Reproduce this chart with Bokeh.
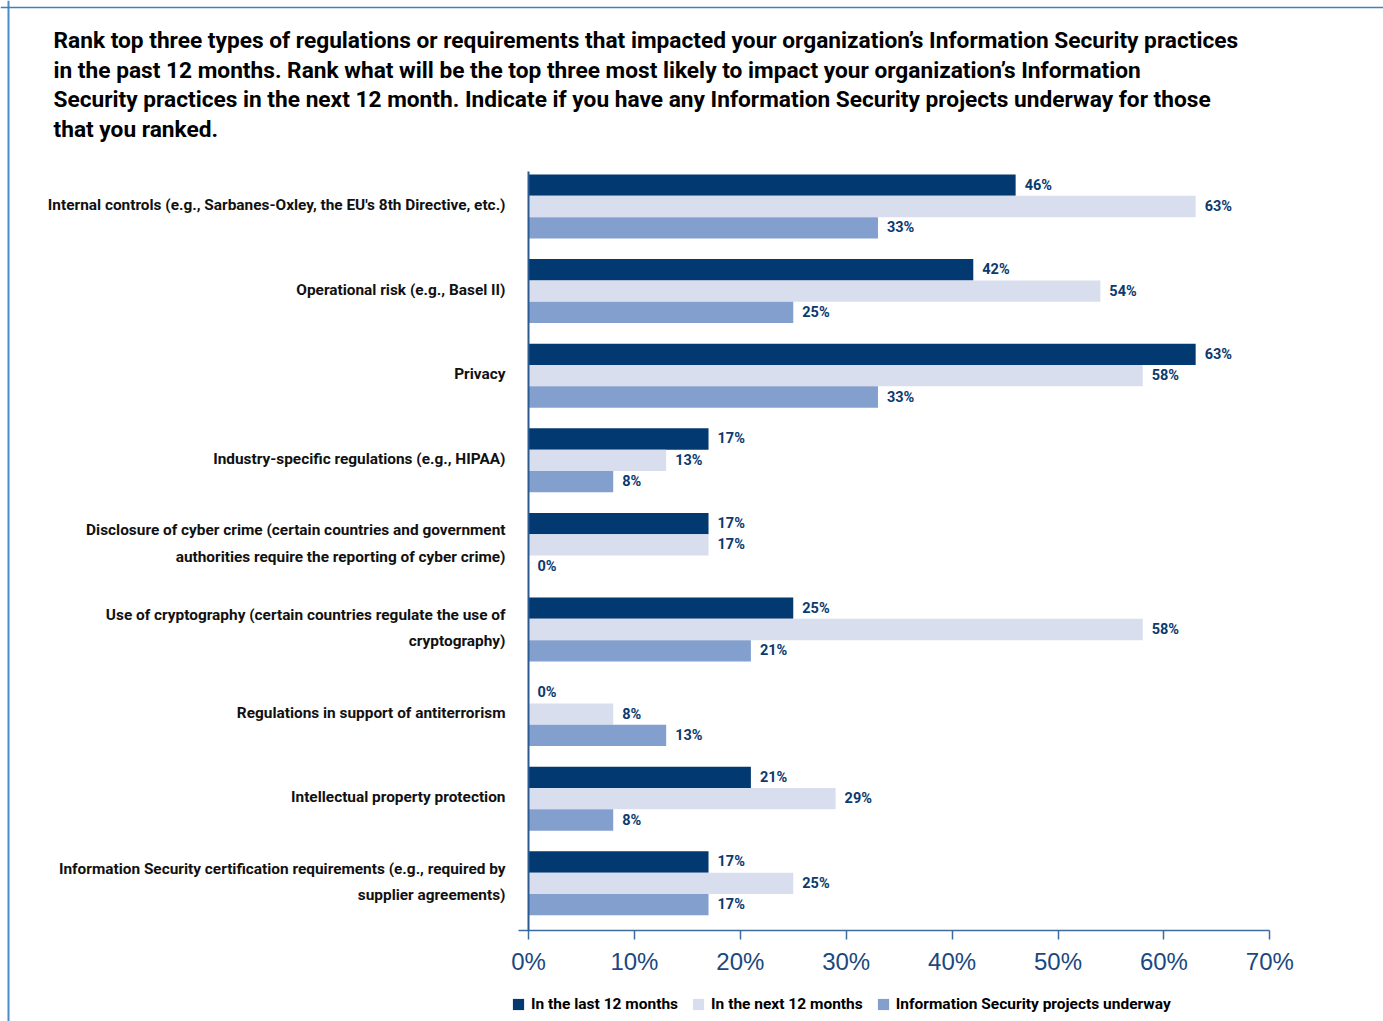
from bokeh.plotting import figure
from bokeh.models import (Range1d, LinearAxis, FixedTicker, PrintfTickFormatter, Label,
                          Legend, LegendItem, Span, ColumnDataSource)
from bokeh.core.properties import value
from bokeh.embed import file_html
from bokeh.resources import INLINE

title_text = ("Rank top three types of regulations or requirements that impacted your organization\u2019s Information Security practices\n"
              "in the past 12 months. Rank what will be the top three most likely to impact your organization\u2019s Information\n"
              "Security practices in the next 12 month. Indicate if you have any Information Security projects underway for those\n"
              "that you ranked.")

categories = [
    "Internal controls (e.g., Sarbanes-Oxley, the EU's 8th Directive, etc.)",
    "Operational risk (e.g., Basel II)",
    "Privacy",
    "Industry-specific regulations (e.g., HIPAA)",
    "Disclosure of cyber crime (certain countries and government\nauthorities require the reporting of cyber crime)",
    "Use of cryptography (certain countries regulate the use of\ncryptography)",
    "Regulations in support of antiterrorism",
    "Intellectual property protection",
    "Information Security certification requirements (e.g., required by\nsupplier agreements)",
]
last12 = [46, 42, 63, 17, 17, 25, 0, 21, 17]
next12 = [63, 54, 58, 13, 17, 58, 8, 29, 25]
projects = [33, 25, 33, 8, 0, 21, 13, 8, 17]
series_names = ["In the last 12 months", "In the next 12 months", "Information Security projects underway"]
series_colors = ["#023970", "#d8deee", "#839fcd"]
x_ticks = [0, 10, 20, 30, 40, 50, 60, 70]

W, H = 1383, 1021
X0_PX, X70_PX = 528.0, 1269.3
PX_PER = (X70_PX - X0_PX) / 70.0
C0_PX, STEP = 206.0, 84.6

def px_x(px):
    return (px - X0_PX) / PX_PER

def px_y(px):
    return (px - C0_PX) / STEP

FONT = "Roboto"

p = figure(width=W, height=H, x_range=Range1d(px_x(0), px_x(W)),
           y_range=Range1d(px_y(H), px_y(0)), min_border=0,
           toolbar_location=None, output_backend="svg",
           x_axis_type=None, y_axis_type=None)
p.outline_line_color = None
p.background_fill_color = "white"
p.border_fill_color = "white"

ks = list(range(len(categories)))
bar_h = 0.252
offs = [-bar_h, 0.0, bar_h]
data = [last12, next12, projects]
items = []
for j in range(3):
    src = ColumnDataSource(dict(y=[k + offs[j] for k in ks], v=data[j],
                                lab=["%d%%" % v for v in data[j]]))
    r = p.hbar(y="y", left=0, right="v", height=bar_h, source=src,
               fill_color=series_colors[j], line_color=None)
    p.text(x="v", y="y", text="lab", source=src, x_offset=9,
           text_align="left", text_baseline="middle", text_color="#0b3a6e",
           text_font=value(FONT), text_font_style="bold", text_font_size="14.5px")
    items.append(LegendItem(label=series_names[j], renderers=[r]))

# category labels
csrc = ColumnDataSource(dict(y=ks, x=[0] * len(ks), t=categories))
p.text(x="x", y="y", text="t", source=csrc, x_offset=-23, y_offset=-1.5, text_align="right",
       text_baseline="middle", text_color="#111111", text_font=value(FONT),
       text_font_style="bold", text_font_size="15.4px", text_line_height=1.46)

# axes
xa = LinearAxis(fixed_location=px_y(930), bounds=(px_x(518), 70),
                ticker=FixedTicker(ticks=x_ticks), formatter=PrintfTickFormatter(format="%d%%"))
xa.axis_line_color = "#3d6c9e"
xa.axis_line_width = 1.5
xa.major_tick_line_color = "#3d6c9e"
xa.major_tick_line_width = 1.5
xa.major_tick_out = 9
xa.major_tick_in = 0
xa.minor_tick_line_color = None
xa.major_label_standoff = 8
xa.major_label_text_font = "Liberation Sans"
xa.major_label_text_font_size = "24px"
xa.major_label_text_color = "#1a4880"
p.add_layout(xa, "below")

ya = LinearAxis(fixed_location=0, bounds=(px_y(171), px_y(930)),
                ticker=FixedTicker(ticks=[]))
ya.axis_line_color = "#2a5a90"
ya.axis_line_width = 2
ya.major_tick_line_color = None
ya.minor_tick_line_color = None
ya.major_label_text_font_size = "0px"
p.add_layout(ya, "left")

# page border lines
p.add_layout(Span(location=px_x(8), dimension="height", line_color="#4a8cc8", line_width=2))
p.add_layout(Span(location=px_y(7), dimension="width", line_color="#3f7fbf", line_width=1.5))

# title
p.add_layout(Label(x=px_x(53), y=px_y(26.5), text=title_text, text_align="left",
                   text_baseline="top", text_font=FONT, text_font_style="bold",
                   text_font_size="22.7px", text_color="#000000", text_line_height=1.096))

legend = Legend(items=items, orientation="horizontal", location=(511, 7),
                glyph_width=14, glyph_height=14, label_standoff=6, spacing=13,
                padding=0, margin=0, border_line_color=None, background_fill_alpha=0,
                label_text_font=FONT, label_text_font_style="bold",
                label_text_font_size="15.5px", label_text_color="#000000", label_height=20)
p.add_layout(legend)

open("out.html", "w").write(file_html(p, INLINE))
